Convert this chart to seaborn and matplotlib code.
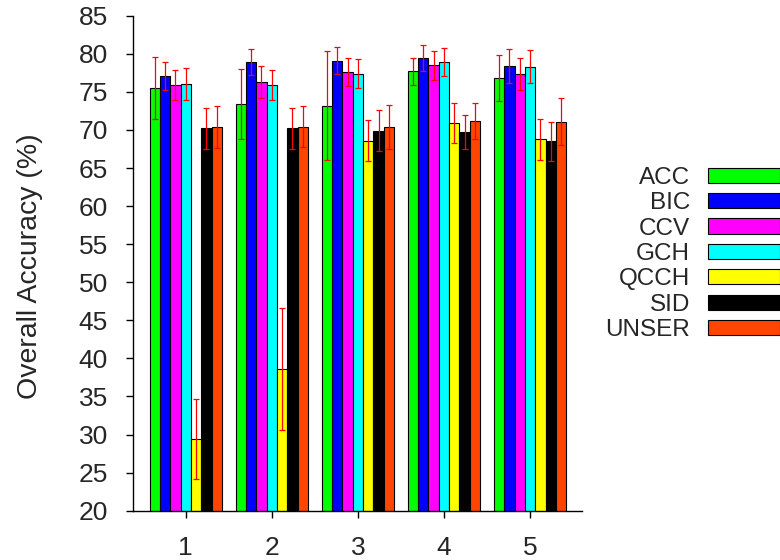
import matplotlib
matplotlib.use("Agg")
import matplotlib.pyplot as plt
from matplotlib.patches import Patch
import seaborn as sns
import pandas as pd

groups = ["1", "2", "3", "4", "5"]
methods = ["ACC", "BIC", "CCV", "GCH", "QCCH", "SID", "UNSER"]
colors = ["#00ff00", "#0000ff", "#ff00ff", "#00ffff", "#ffff00", "#000000", "#ff4500"]

acc = [75.5, 73.4, 73.2, 77.7, 76.8]
bic = [77.1, 78.9, 79.1, 79.5, 78.4]
ccv = [75.9, 76.3, 77.6, 78.5, 77.4]
gch = [76.05, 75.9, 77.4, 78.9, 78.3]
qcch = [29.4, 38.6, 68.6, 70.9, 68.8]
sid = [70.2, 70.2, 69.9, 69.7, 68.5]
unser = [70.4, 70.4, 70.4, 71.2, 71.1]

acc_err = [4.1, 4.6, 7.2, 1.8, 3.0]
bic_err = [1.8, 1.7, 1.8, 1.7, 2.25]
ccv_err = [2.0, 2.1, 1.85, 1.9, 2.1]
gch_err = [2.1, 2.0, 1.9, 1.85, 2.2]
qcch_err = [5.3, 8.0, 2.65, 2.65, 2.7]
sid_err = [2.7, 2.7, 2.7, 2.25, 2.55]
unser_err = [2.75, 2.7, 2.85, 2.4, 3.1]

values = [acc, bic, ccv, gch, qcch, sid, unser]
errors = [acc_err, bic_err, ccv_err, gch_err, qcch_err, sid_err, unser_err]

rows = []
for m, vals in zip(methods, values):
    for g, v in zip(groups, vals):
        rows.append({"group": g, "method": m, "value": v})
df = pd.DataFrame(rows)

sns.set_style("ticks")
plt.rcParams["font.family"] = ["Liberation Sans", "DejaVu Sans"]

fig = plt.figure(figsize=(7.8, 5.6), dpi=100)
ax = fig.add_axes([133 / 780, 1 - 510.7 / 560, 449 / 780, 495 / 560])

sns.barplot(data=df, x="group", y="value", hue="method", order=groups,
            hue_order=methods, palette=colors, width=0.84, gap=0,
            errorbar=None, edgecolor="black", linewidth=0.8,
            saturation=1, legend=False, ax=ax)

for cont, vals, errs in zip(ax.containers, values, errors):
    xs = [b.get_x() + b.get_width() / 2 for b in cont]
    ax.errorbar(xs, vals, yerr=errs, fmt="none", ecolor="red",
                elinewidth=0.9, capsize=2.5, capthick=0.9, zorder=5)

ax.set_ylim(20, 85)
ax.set_yticks(range(20, 86, 5))
ax.set_xlim(-0.612, 4.604)
ax.set_xlabel("")
ax.set_ylabel("Overall Accuracy (%)", fontsize=20.5)
ax.yaxis.set_label_coords(-0.2, 0.493)
ax.tick_params(axis="both", direction="out", length=5, width=1,
               labelsize=19, pad=13, color="black")
sns.despine(ax=ax)
for sp in ["left", "bottom"]:
    ax.spines[sp].set_linewidth(1.0)
    ax.spines[sp].set_color("black")

handles = [Patch(facecolor=c, edgecolor="black", linewidth=0.8) for c in colors]
fig.legend(handles, methods, loc="center right", bbox_to_anchor=(1.0, 1 - 254 / 560),
           frameon=False, markerfirst=False, fontsize=17.5, handlelength=2.96,
           handleheight=0.58, handletextpad=0.74, labelspacing=0.14,
           borderaxespad=0, borderpad=0)

fig.savefig("out.png", dpi=100)
